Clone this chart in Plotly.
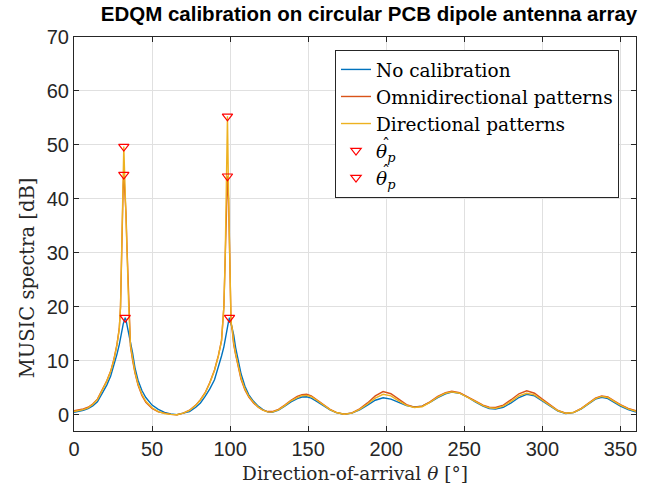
import plotly.graph_objects as go

# Direction-of-arrival grid (degrees)
theta = [0, 3, 6, 9, 12, 15, 18, 21, 23.5, 25.5, 27.5, 29, 29.8, 30.5, 31.0, 31.5, 31.9, 32.4, 32.8, 33.3,
         34.0, 35.0, 36.2, 37.5, 39, 41, 43.5, 46, 50, 54, 58, 62, 66, 70, 74, 78, 81, 84, 87, 90,
         92.5, 94.5, 96.0, 96.9, 97.5, 98.3, 99.0, 99.6, 100.0, 100.6, 101.4, 102.3, 103.5, 105, 107, 109.5,
         112, 115, 118, 121, 124, 127, 131, 135, 139, 143, 146, 149, 152, 156, 160, 164, 168, 173, 178,
         183, 188, 193, 198, 203, 208, 213, 218, 223, 228, 233, 238, 242, 247, 252, 257, 262, 266, 270,
         275, 280, 285, 290, 295, 300, 305, 310, 315, 320, 325, 330, 334, 338, 342, 346, 350, 355, 360]

no_cal = [0.45, 0.6, 0.85, 1.15, 1.65, 2.4, 3.9, 5.5, 7.2, 9.0, 11.2, 13.0, 14.0, 15.2, 16.0, 16.8, 17.3, 17.8, 18.0, 17.6,
          16.6, 15.3, 13.8, 11.5, 8.8, 6.4, 4.5, 3.2, 1.8, 1.0, 0.45, 0.15, 0.03, 0.25, 0.6, 1.4, 2.2, 3.4, 4.8, 6.5,
          8.8, 10.9, 12.6, 13.8, 14.8, 16.2, 17.3, 18.0, 17.7, 17.0, 16.0, 14.8, 12.5, 10.2, 7.6, 5.3,
          3.7, 2.5, 1.6, 0.95, 0.55, 0.45, 0.85, 1.6, 2.4, 3.0, 3.3, 3.35, 3.1, 2.4, 1.6, 0.9, 0.4, 0.1, 0.3,
          0.9, 1.8, 2.7, 3.15, 2.9, 2.3, 1.7, 1.45, 1.6, 2.3, 3.2, 3.9, 4.2, 4.0, 3.3, 2.4, 1.6, 1.15, 1.05,
          1.4, 2.2, 3.2, 3.8, 3.5, 2.6, 1.6, 0.7, 0.25, 0.4, 1.1, 2.1, 2.9, 3.25, 3.0, 2.3, 1.6, 0.95, 0.5]

omni = [0.75, 0.9, 1.1, 1.4, 2.0, 2.9, 4.5, 6.3, 8.1, 10.2, 13.0, 16.0, 20.0, 30.0, 40.0, 42.5, 44.5, 42.5, 40.5, 37.5,
        30.5, 20.5, 12.6, 10.2, 7.8, 5.5, 3.6, 2.3, 1.2, 0.55, 0.25, 0.08, 0.02, 0.3, 0.85, 1.8, 2.8, 4.1, 6.0, 8.3,
        11.0, 13.8, 20.0, 30.0, 40.0, 44.2, 40.0, 30.0, 20.0, 17.0, 15.6, 13.0, 11.2, 9.0, 6.6, 4.6,
        3.3, 2.2, 1.4, 0.85, 0.6, 0.6, 1.0, 1.8, 2.7, 3.4, 3.75, 3.8, 3.5, 2.7, 1.8, 1.0, 0.45, 0.1, 0.35,
        1.1, 2.2, 3.5, 4.3, 3.9, 2.9, 1.9, 1.4, 1.6, 2.4, 3.4, 4.1, 4.35, 4.1, 3.4, 2.6, 1.8, 1.4, 1.35,
        1.8, 2.8, 3.9, 4.45, 4.0, 2.9, 1.8, 0.8, 0.3, 0.45, 1.2, 2.3, 3.1, 3.5, 3.3, 2.6, 1.9, 1.2, 0.75]

directional = [0.6, 0.75, 0.95, 1.3, 1.9, 2.8, 4.4, 6.2, 8.0, 10.1, 12.9, 15.9, 20.0, 30.0, 40.0, 45.0, 49.7, 45.0, 41.0, 37.5,
               30.5, 20.5, 12.8, 10.4, 8.0, 5.7, 3.8, 2.5, 1.3, 0.6, 0.25, 0.08, 0.02, 0.3, 0.8, 1.75, 2.75, 4.0, 5.9, 8.2,
               10.9, 13.7, 20.0, 30.0, 41.0, 55.3, 41.0, 30.0, 20.0, 17.2, 15.8, 13.3, 11.4, 9.2, 6.8, 4.8,
               3.4, 2.3, 1.45, 0.85, 0.55, 0.5, 0.9, 1.7, 2.6, 3.2, 3.55, 3.6, 3.35, 2.6, 1.7, 0.95, 0.42, 0.1, 0.3,
               1.0, 2.0, 3.1, 3.8, 3.5, 2.6, 1.75, 1.35, 1.5, 2.3, 3.3, 4.0, 4.25, 4.0, 3.3, 2.5, 1.7, 1.3, 1.2,
               1.6, 2.5, 3.5, 4.0, 3.7, 2.7, 1.7, 0.75, 0.28, 0.42, 1.15, 2.2, 3.0, 3.4, 3.2, 2.5, 1.8, 1.1, 0.65]

# Estimated peaks (markers)
peaks_a_theta = [32.8, 99.6, 31.9, 98.3]
peaks_a_db = [18.0, 18.0, 44.5, 44.2]
peaks_b_theta = [31.9, 98.3]
peaks_b_db = [49.7, 55.3]

series_names = ["No calibration", "Omnidirectional patterns", "Directional patterns"]
series_colors = ["#0072BD", "#D95319", "#EDB120"]
peak_label = "<i>θ</i><sub><i>p</i></sub>"

x_ticks = [0, 50, 100, 150, 200, 250, 300, 350]
y_ticks = [0, 10, 20, 30, 40, 50, 60, 70]

fig = go.Figure()
for name, ys, col in zip(series_names, [no_cal, omni, directional], series_colors):
    fig.add_trace(go.Scatter(x=theta, y=ys, mode="lines", name=name,
                             line=dict(color=col, width=1.4)))

for tx, ty in [(peaks_a_theta, peaks_a_db), (peaks_b_theta, peaks_b_db)]:
    fig.add_trace(go.Scatter(x=tx, y=ty, mode="markers", name=peak_label,
                             marker=dict(symbol="triangle-down-open", color="#FF0000", size=9,
                                         line=dict(width=1.2, color="#FF0000"))))

axis_col = "#262626"
grid_col = "#E0E0E0"
tick_font = dict(family="Liberation Sans, Arial, sans-serif", size=20, color=axis_col)
serif = "DejaVu Serif, Liberation Serif, serif"

L, R, T, B = 74, 16, 37, 59
PW = 652 - L - R
PH = 493 - T - B


def px(xp):
    return (xp - L) / PW


def py(yp):
    return (493 - B - yp) / PH


annotations = [dict(text="MUSIC spectra [dB]", textangle=-90, showarrow=False,
                    xref="paper", yref="paper", x=px(27), y=py(280),
                    xanchor="center", yanchor="middle",
                    font=dict(family=serif, size=19.5, color=axis_col))]
# hats over the theta in the two legend entries
for hy in [145, 173]:
    annotations.append(dict(text="ˆ", showarrow=False, xref="paper", yref="paper",
                            x=px(386), y=py(hy), xanchor="center", yanchor="middle",
                            font=dict(family=serif, size=16, color="black")))

fig.update_layout(
    width=652, height=493,
    margin=dict(l=L, r=R, t=T, b=B),
    paper_bgcolor="white", plot_bgcolor="white",
    title=dict(text="<b>EDQM calibration on circular PCB dipole antenna array</b>",
               font=dict(family="Liberation Sans, Arial, sans-serif", size=20.5, color="black"),
               x=369 / 652, xref="container", xanchor="center",
               y=1 - 14 / 493, yref="container", yanchor="middle"),
    showlegend=True,
    legend=dict(x=px(335), y=py(50), xanchor="left", yanchor="top",
                bgcolor="white", bordercolor=axis_col, borderwidth=1,
                font=dict(family=serif, size=18.5, color="black"),
                tracegroupgap=0, itemwidth=30),
    xaxis=dict(range=[0, 360], tickvals=x_ticks, ticks="inside", ticklen=5, tickcolor=axis_col,
               showline=True, linecolor=axis_col, linewidth=1, mirror="ticks",
               showgrid=True, gridcolor=grid_col, gridwidth=1, zeroline=False,
               tickfont=tick_font,
               title=dict(text="Direction-of-arrival <i>θ</i> [°]",
                          font=dict(family=serif, size=18.5, color=axis_col), standoff=8)),
    yaxis=dict(range=[-3, 70], tickvals=y_ticks, ticks="inside", ticklen=5, tickcolor=axis_col,
               showline=True, linecolor=axis_col, linewidth=1, mirror="ticks",
               showgrid=True, gridcolor=grid_col, gridwidth=1, zeroline=False,
               tickfont=tick_font),
    annotations=annotations,
)

fig.write_html("out.html")
